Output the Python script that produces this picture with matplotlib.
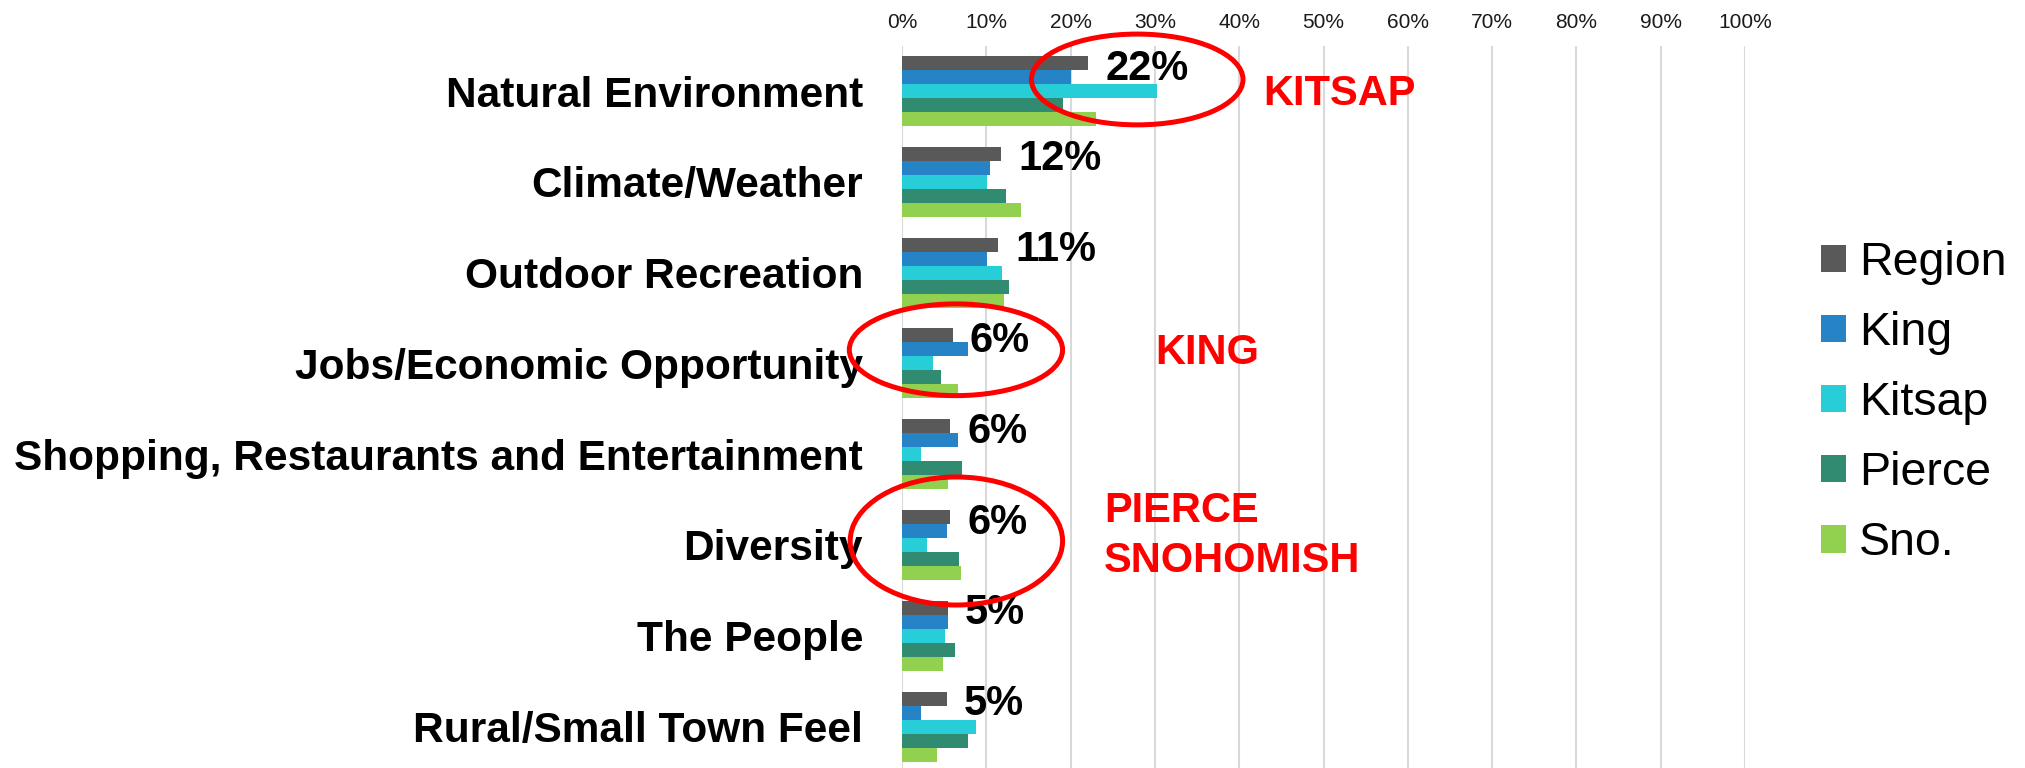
import numpy as np
import matplotlib
matplotlib.use("Agg")
import matplotlib.pyplot as plt
from matplotlib.patches import Ellipse, Patch

plt.rcParams['font.family'] = ['Liberation Sans', 'DejaVu Sans']

# reasons people like living here (share of responses, %)
categories = ["Natural Environment", "Climate/Weather", "Outdoor Recreation",
              "Jobs/Economic Opportunity", "Shopping, Restaurants and Entertainment",
              "Diversity", "The People", "Rural/Small Town Feel"]
series_names = ["Region", "King", "Kitsap", "Pierce", "Sno."]
region = [22.1, 11.7, 11.4, 6.0, 5.7, 5.7, 5.4, 5.3]
king = [20.1, 10.4, 10.1, 7.8, 6.6, 5.3, 5.5, 2.2]
kitsap = [30.2, 10.1, 11.9, 3.7, 2.2, 3.0, 5.1, 8.8]
pierce = [19.1, 12.3, 12.7, 4.6, 7.1, 6.8, 6.3, 7.8]
sno = [23.0, 14.1, 12.1, 6.6, 5.4, 7.0, 4.9, 4.1]
colors = ["#595959", "#2683C6", "#27CED7", "#318B70", "#92D050"]

xticks = np.arange(0, 101, 10)

fig = plt.figure(figsize=(20.25, 7.68), dpi=100)
ax = fig.add_axes([902 / 2025, 0.0, (1745 - 902) / 2025, 1 - 46 / 768])

y = np.arange(len(categories))
h = 0.154
all_series = [region, king, kitsap, pierce, sno]
for k, (vals, name, c) in enumerate(zip(all_series, series_names, colors)):
    ax.barh(y + (k - 2) * h, vals, height=h, color=c, label=name, zorder=2)

# data labels next to the Region bar
for i, v in enumerate(region):
    ax.annotate(f"{v:.0f}%", xy=(v, y[i] - 2 * h), xytext=(12.5, -12),
                textcoords="offset points", ha="left", va="baseline",
                fontsize=30, fontweight="bold", color="black", zorder=4)

ax.set_xlim(0, 100)
ax.set_ylim(7.456, -0.4956)
ax.set_xticks(xticks)
ax.set_xticklabels([f"{t}%" for t in xticks], fontsize=15, color="#1a1a1a")
ax.xaxis.tick_top()
ax.tick_params(axis="x", length=0, pad=10)
ax.set_yticks(y)
ax.set_yticklabels(categories, fontsize=30.5, fontweight="bold")
ax.tick_params(axis="y", length=0, pad=28)
ax.grid(axis="x", color="#D9D9D9", linewidth=1.5, zorder=0)
ax.set_axisbelow(True)
for s in ax.spines.values():
    s.set_visible(False)

# red highlight ellipses and county notes
ellipses = [(27.9, -0.127, 25.1, 1.0), (6.4, 2.85, 25.3, 1.01), (6.45, 4.956, 25.2, 1.41)]
for cx, cy, w, eh in ellipses:
    ax.add_patch(Ellipse((cx, cy), w, eh, fill=False, edgecolor="#FF0000",
                         linewidth=3.6, clip_on=False, zorder=6))

notes = [("KITSAP", 42.8, 0.154), ("KING", 30.1, 3.005),
         ("PIERCE", 24.0, 4.743), ("SNOHOMISH", 24.0, 5.294)]
for txt, nx, ny in notes:
    ax.text(nx, ny, txt, color="#FF0000", fontsize=30, fontweight="bold",
            ha="left", va="baseline", zorder=6)

handles = [Patch(facecolor=c, edgecolor="none") for c in colors]
fig.legend(handles, series_names, loc="center left", bbox_to_anchor=(1821 / 2025, 1 - 403 / 768),
           frameon=False, fontsize=33.5, handlelength=0.54, handleheight=0.54,
           handletextpad=0.28, labelspacing=0.56, borderpad=0, borderaxespad=0)

fig.savefig("out.png", dpi=100, facecolor="white")
